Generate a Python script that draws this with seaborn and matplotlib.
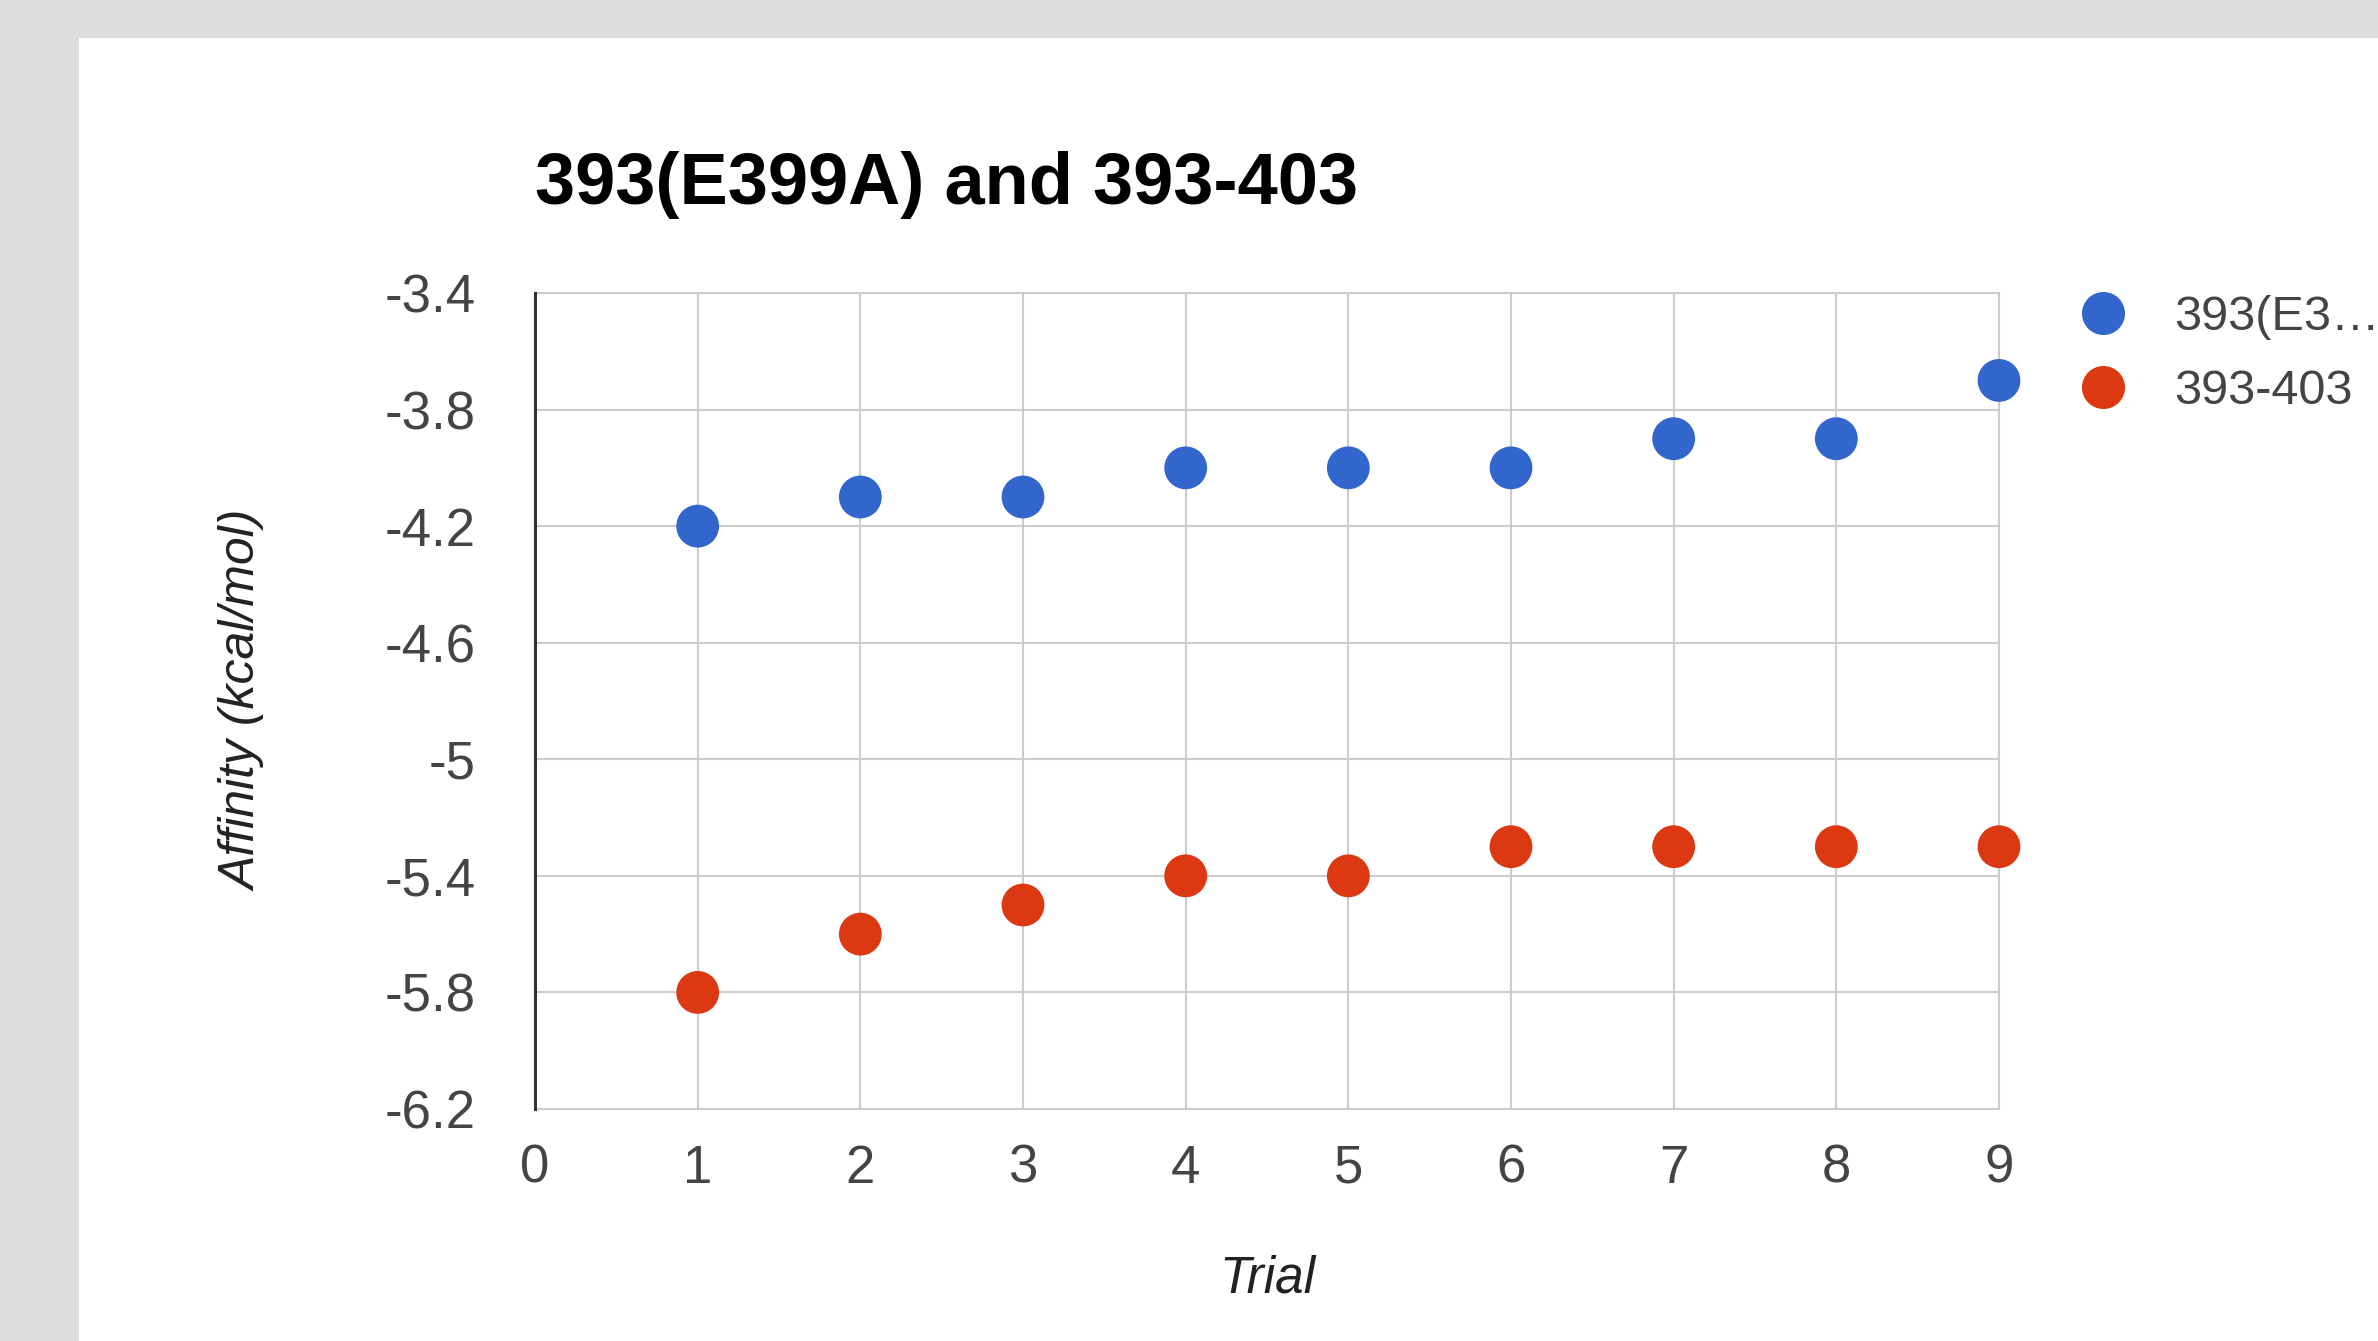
import numpy as np
import pandas as pd
import matplotlib
matplotlib.use("Agg")
import matplotlib.pyplot as plt
from matplotlib.patches import Rectangle
from matplotlib.ticker import FixedLocator
import seaborn as sns

# data
trials = [1, 2, 3, 4, 5, 6, 7, 8, 9]
affinity_e399a = [-4.2, -4.1, -4.1, -4.0, -4.0, -4.0, -3.9, -3.9, -3.7]
affinity_393_403 = [-5.8, -5.6, -5.5, -5.4, -5.4, -5.3, -5.3, -5.3, -5.3]
series_names = ["393(E399A)", "393-403"]
legend_labels = ["393(E3\u2026", "393-403"]
series_colors = ["#3366cc", "#dc3912"]
x_ticks = [0, 1, 2, 3, 4, 5, 6, 7, 8, 9]
y_ticks = [-3.4, -3.8, -4.2, -4.6, -5.0, -5.4, -5.8, -6.2]
y_tick_labels = ["-3.4", "-3.8", "-4.2", "-4.6", "-5", "-5.4", "-5.8", "-6.2"]

df = pd.concat([
    pd.DataFrame({"Trial": trials, "Affinity": affinity_e399a, "Series": series_names[0]}),
    pd.DataFrame({"Trial": trials, "Affinity": affinity_393_403, "Series": series_names[1]}),
], ignore_index=True)

sns.set_theme(style="white")
plt.rcParams["font.family"] = ["Liberation Sans", "DejaVu Sans"]

W, H = 2378, 1341
fig = plt.figure(figsize=(W / 100, H / 100), dpi=100)
fig.patch.set_facecolor("#dddddd")
# white card on the grey page
fig.patches.append(Rectangle((79 / W, 0), 1, 1 - 38 / H, transform=fig.transFigure,
                             facecolor="white", edgecolor="none", zorder=-10))

ax = fig.add_axes([535 / W, 1 - 1109 / H, (1999 - 535) / W, (1109 - 293) / H])
ax.set_facecolor("none")

sns.scatterplot(data=df, x="Trial", y="Affinity", hue="Series",
                palette=dict(zip(series_names, series_colors)),
                s=950, edgecolor="none", linewidth=0, clip_on=False, zorder=5, ax=ax)

ax.set_xlim(0, 9)
ax.set_ylim(-6.2, -3.4)
ax.xaxis.set_major_locator(FixedLocator(x_ticks))
ax.set_xticklabels([str(t) for t in x_ticks])
ax.yaxis.set_major_locator(FixedLocator(y_ticks))
ax.set_yticklabels(y_tick_labels)
ax.tick_params(axis="both", length=0, labelsize=38, labelcolor="#444444")
ax.tick_params(axis="y", pad=43)
ax.tick_params(axis="x", pad=25)

ax.set_axisbelow(True)
ax.grid(True, color="#cccccc", linewidth=1.5)
for side in ["top", "right", "bottom"]:
    ax.spines[side].set_color("#cccccc")
    ax.spines[side].set_linewidth(1.5)
ax.spines["left"].set_color("#333333")
ax.spines["left"].set_linewidth(2.2)
ax.spines["left"].set_zorder(6)

ax.set_xlabel("Trial", fontsize=37, style="italic", color="#222222", labelpad=44)
ax.set_ylabel("Affinity (kcal/mol)", fontsize=36, style="italic", color="#222222", labelpad=85)
ax.set_title("393(E399A) and 393-403", loc="left", fontsize=52, fontweight="bold",
             color="#000000", pad=64)

sns.move_legend(ax, "upper left", bbox_to_anchor=(2079 / W, 1 - 295 / H),
                bbox_transform=fig.transFigure, frameon=False, title=None,
                fontsize=35, handlelength=1.0, handletextpad=0.95, labelspacing=0.6,
                borderpad=0, borderaxespad=0)
leg = ax.get_legend()
for t, lab in zip(leg.get_texts(), legend_labels):
    t.set_text(lab)
    t.set_color("#444444")
for h in leg.legend_handles:
    if hasattr(h, "set_markersize"):
        h.set_markersize(31)
    else:
        h.set_sizes([950])

fig.savefig("out.png", dpi=100, facecolor=fig.get_facecolor())
